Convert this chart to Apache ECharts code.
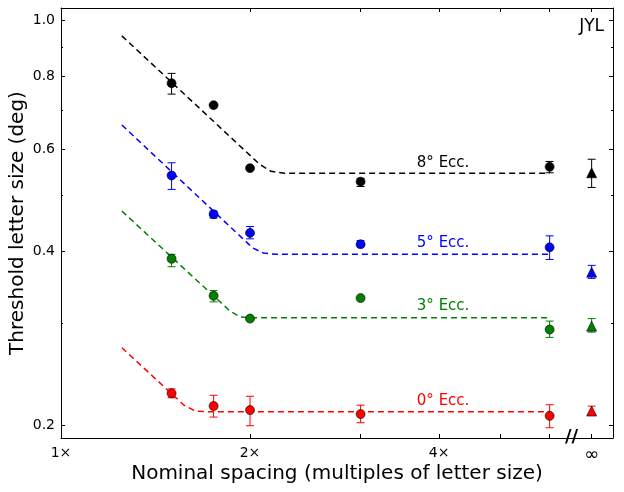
<!DOCTYPE html>
<html style="height: 100%">
<head>
<meta charset="utf-8">
<script src="https://cdn.jsdelivr.net/npm/echarts@6/dist/echarts.min.js"></script>
</head>
<body style="height: 100%; margin: 0; background: #fff">
<div id="main" style="width: 624px; height: 492px;"></div>
<script type="text/javascript">
// nominal spacing (multiples of letter size); infinity is drawn at 7
var spacing = [1.5, 1.75, 2, 3, 6];
var infPos = 7;
var xTicks = [1, 2, 3, 4, 5, 6, 7];
var xLabels = [1, 2, 4, 7];
var yMajor = [0.2, 0.4, 0.6, 0.8, 1.0];
var yMinor = [0.3, 0.5, 0.7, 0.9];

// threshold letter size (deg), circles + error bars (low, high)
var ecc8 = [0.779, 0.714, 0.556, 0.527, 0.559];
var ecc8Lo = [0.746, 0.714, 0.556, 0.517, 0.546];
var ecc8Hi = [0.810, 0.714, 0.556, 0.534, 0.571];
var ecc5 = [0.540, 0.463, 0.430, 0.411, 0.406];
var ecc5Lo = [0.511, 0.456, 0.420, 0.407, 0.387];
var ecc5Hi = [0.568, 0.469, 0.441, 0.417, 0.425];
var ecc3 = [0.388, 0.335, 0.306, 0.332, 0.293];
var ecc3Lo = [0.376, 0.327, 0.306, 0.332, 0.284];
var ecc3Hi = [0.395, 0.342, 0.306, 0.332, 0.303];
var ecc0 = [0.2275, 0.2163, 0.2128, 0.2095, 0.208];
var ecc0Lo = [0.2235, 0.207, 0.200, 0.2024, 0.1984];
var ecc0Hi = [0.2315, 0.2257, 0.2248, 0.217, 0.2174];

// unflanked (infinite spacing): value, low, high
var inf8 = [0.546, 0.515, 0.576];
var inf5 = [0.368, 0.359, 0.378];
var inf3 = [0.297, 0.290, 0.306];
var inf0 = [0.212, 0.2095, 0.2162];

// fitted curves
var fit8 = [[1.25, 0.94], [2.07, 0.565], [2.16, 0.549], [2.27, 0.545], [6, 0.545]];
var fit5 = [[1.25, 0.66], [2.02, 0.405], [2.1, 0.397], [2.2, 0.395], [6, 0.395]];
var fit3 = [[1.25, 0.469], [1.86, 0.315], [1.93, 0.308], [2.0, 0.307], [6, 0.307]];
var fit0 = [[1.25, 0.2726], [1.57, 0.217], [1.64, 0.2118], [1.72, 0.2114], [6, 0.2114]];

var labelNames = ['8\u00b0 Ecc.', '5\u00b0 Ecc.', '3\u00b0 Ecc.', '0\u00b0 Ecc.'];
var labelX = 4.06;
var labelY = [0.567, 0.413, 0.321, 0.2206];

var colors = ['#000000', '#0000ff', '#008000', '#ff0000'];
var FONT = 'DejaVu Sans';

var dom = document.getElementById('main');
var myChart = echarts.init(dom, null, {renderer: 'canvas'});

function errRender(params, api) {
    var x = api.value(0);
    var p1 = api.coord([x, api.value(1)]);
    var p2 = api.coord([x, api.value(2)]);
    var w = 4;
    var st = {stroke: api.visual('color'), lineWidth: 1};
    return {
        type: 'group',
        children: [
            {type: 'line', shape: {x1: p1[0], y1: p1[1], x2: p2[0], y2: p2[1]}, style: st},
            {type: 'line', shape: {x1: p1[0] - w, y1: p1[1], x2: p1[0] + w, y2: p1[1]}, style: st},
            {type: 'line', shape: {x1: p2[0] - w, y1: p2[1], x2: p2[0] + w, y2: p2[1]}, style: st}
        ]
    };
}

var groups = [
    {vals: ecc8, lo: ecc8Lo, hi: ecc8Hi, inf: inf8, fit: fit8},
    {vals: ecc5, lo: ecc5Lo, hi: ecc5Hi, inf: inf5, fit: fit5},
    {vals: ecc3, lo: ecc3Lo, hi: ecc3Hi, inf: inf3, fit: fit3},
    {vals: ecc0, lo: ecc0Lo, hi: ecc0Hi, inf: inf0, fit: fit0}
];

var series = [];
groups.forEach(function (g, i) {
    var c = colors[i];
    series.push({
        type: 'line',
        data: g.fit,
        showSymbol: false,
        silent: true,
        lineStyle: {color: c, width: 1.5, type: [6, 4]},
        z: 2
    });
    var errs = spacing.map(function (x, k) { return [x, g.lo[k], g.hi[k]]; });
    errs.push([infPos, g.inf[1], g.inf[2]]);
    series.push({
        type: 'custom',
        renderItem: errRender,
        data: errs,
        encode: {x: 0, y: [1, 2]},
        itemStyle: {color: c},
        silent: true,
        z: 3
    });
    series.push({
        type: 'scatter',
        data: spacing.map(function (x, k) { return [x, g.vals[k]]; }),
        symbol: 'circle',
        symbolSize: 9,
        itemStyle: {color: c, borderColor: '#000', borderWidth: 0.6, opacity: 1},
        z: 4
    });
    series.push({
        type: 'scatter',
        data: [[infPos, g.inf[0]]],
        symbol: 'triangle',
        symbolSize: 10,
        itemStyle: {color: c, borderColor: '#000', borderWidth: 0.6, opacity: 1},
        z: 4
    });
});

// curve labels
series.push({
    type: 'scatter',
    symbolSize: 0,
    silent: true,
    itemStyle: {opacity: 1},
    data: labelNames.map(function (n, i) {
        return {
            value: [labelX, labelY[i]],
            label: {show: true, position: 'inside', formatter: n, color: colors[i],
                    fontFamily: FONT, fontSize: 15, textBorderWidth: 0, opacity: 1}
        };
    }),
    z: 5
});

function xAxisDef(pos, showLabel) {
    return {
        type: 'log', logBase: 2, min: 1, max: 7.57, position: pos,
        axisLine: {show: true, onZero: false, lineStyle: {color: '#000', width: 1}},
        axisTick: {show: true, inside: true, length: 4, customValues: xTicks,
                   lineStyle: {color: '#000', width: 1}},
        axisLabel: {show: showLabel, customValues: xLabels, margin: 8,
                    fontFamily: FONT, fontSize: 14, color: '#000',
                    formatter: function (v) { return v >= 6.9 ? '{inf|\u221e}' : Math.round(v) + '\u00d7'; },
                    rich: {inf: {fontFamily: FONT, fontSize: 18, color: '#000'}}},
        splitLine: {show: false},
        minorTick: {show: false}
    };
}
function yAxisDef(pos, ticks, len, showLine, showLabel) {
    return {
        type: 'log', logBase: 10, min: 0.1905, max: 1.05, position: pos,
        axisLine: {show: showLine, onZero: false, lineStyle: {color: '#000', width: 1}},
        axisTick: {show: true, inside: true, length: len, customValues: ticks,
                   lineStyle: {color: '#000', width: 1}},
        axisLabel: {show: showLabel, customValues: ticks, margin: 6,
                    fontFamily: FONT, fontSize: 14, color: '#000',
                    formatter: function (v) { return v.toFixed(1); }},
        splitLine: {show: false},
        minorTick: {show: false}
    };
}

var xb = xAxisDef('bottom', true);
xb.name = 'Nominal spacing (multiples of letter size)';
xb.nameLocation = 'middle';
xb.nameGap = 26;
xb.nameMoveOverlap = false;
xb.nameTextStyle = {fontFamily: FONT, fontSize: 20, color: '#000'};
var xt = xAxisDef('top', false);

var yl = yAxisDef('left', yMajor, 4, true, true);
yl.name = 'Threshold letter size (deg)';
yl.nameLocation = 'middle';
yl.nameGap = 33;
yl.nameMoveOverlap = false;
yl.nameTextStyle = {fontFamily: FONT, fontSize: 20, color: '#000'};

var option = {
    animation: false,
    backgroundColor: '#fff',
    grid: {left: 61, right: 11, top: 8, bottom: 54, containLabel: false, outerBoundsMode: 'none'},
    xAxis: [xb, xt],
    yAxis: [
        yl,
        yAxisDef('right', yMajor, 4, true, false),
        yAxisDef('left', yMinor, 2, false, false),
        yAxisDef('right', yMinor, 2, false, false)
    ],
    graphic: [
        {type: 'text', right: 20, top: 18, silent: true,
         style: {text: 'JYL', fontFamily: FONT, fontSize: 17, fill: '#000'}},
        {type: 'text', left: 565, top: 428, silent: true,
         style: {text: '//', fontFamily: FONT, fontSize: 18, fontWeight: 'bold', fill: '#000'}}
    ],
    series: series
};

myChart.setOption(option, true);
</script>
</body>
</html>
